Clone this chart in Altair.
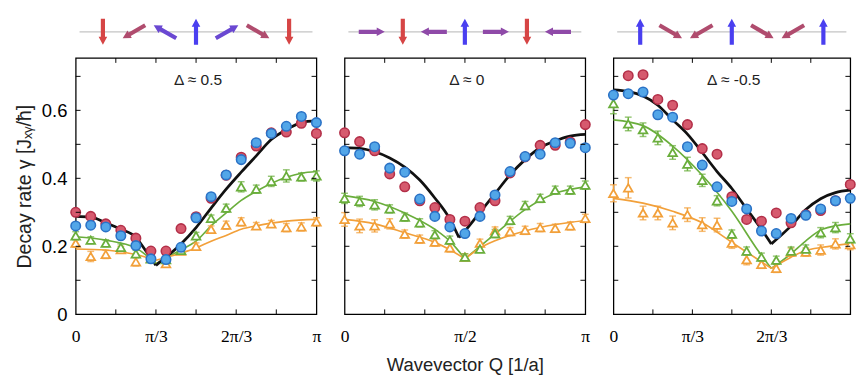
import altair as alt
import pandas as pd
import numpy as np

PI = float(np.pi)

# Q grid index: Q = k * pi / 16
q_index = list(range(17))

panel_labels = ["Δ ≈ 0.5", "Δ ≈ 0", "Δ ≈ -0.5"]

# ---------------- Panel 1 (Δ ≈ 0.5) ----------------
p1_red = [0.300, 0.288, 0.266, 0.247, 0.224, 0.186, 0.186, 0.252, 0.287, 0.341, 0.409, 0.462, 0.495, 0.534, 0.536, 0.562, 0.532]
p1_blue = [0.260, 0.262, 0.257, 0.231, 0.202, 0.163, 0.161, 0.197, 0.284, 0.346, 0.410, 0.455, 0.505, 0.532, 0.553, 0.582, 0.564]
p1_green = [0.231, 0.218, 0.209, 0.197, 0.178, 0.163, 0.161, 0.188, 0.231, 0.282, 0.312, 0.375, 0.368, 0.391, 0.407, 0.404, 0.407]
p1_orange = [0.209, 0.170, 0.176, 0.190, 0.154, 0.165, 0.149, 0.186, 0.200, 0.250, 0.262, 0.272, 0.260, 0.266, 0.255, 0.257, 0.272]
p1_green_err = [0.012, 0.010, 0.010, 0.010, 0.010, 0.010, 0.010, 0.010, 0.010, 0.010, 0.012, 0.015, 0.012, 0.015, 0.018, 0.012, 0.015]
p1_orange_err = [0.012, 0.015, 0.012, 0.010, 0.012, 0.010, 0.010, 0.010, 0.010, 0.010, 0.012, 0.012, 0.010, 0.010, 0.012, 0.012, 0.012]
p1_kink = 1 / 3
p1_black_f = [0, 0.0625, 0.125, 0.1875, 0.25, 0.29, 1 / 3, 0.375, 0.4375, 0.5, 0.5625, 0.625, 0.6875, 0.75, 0.8125, 0.875, 0.9375, 1]
p1_black_y = [0.288, 0.286, 0.269, 0.250, 0.226, 0.1875, 0.144, 0.168, 0.207, 0.255, 0.3125, 0.368, 0.418, 0.466, 0.514, 0.543, 0.564, 0.570]
p1_green_f = [0, 0.125, 0.25, 1 / 3, 0.4375, 0.5, 0.5625, 0.625, 0.6875, 0.75, 0.8125, 0.875, 0.9375, 1]
p1_green_y = [0.228, 0.218, 0.195, 0.149, 0.190, 0.215, 0.260, 0.298, 0.335, 0.362, 0.385, 0.403, 0.415, 0.420]
p1_orange_f = [0, 0.125, 0.25, 1 / 3, 0.4375, 0.5, 0.5625, 0.625, 0.6875, 0.75, 0.8125, 0.875, 1]
p1_orange_y = [0.192, 0.189, 0.176, 0.159, 0.180, 0.195, 0.215, 0.232, 0.250, 0.260, 0.268, 0.274, 0.279]

# ---------------- Panel 2 (Δ ≈ 0) ----------------
p2_red = [0.534, 0.508, 0.481, 0.413, 0.375, 0.334, 0.314, 0.279, 0.274, 0.314, 0.334, 0.416, 0.463, 0.497, 0.497, 0.507, 0.558]
p2_blue = [0.481, 0.471, 0.493, 0.430, 0.418, 0.339, 0.288, 0.257, 0.2375, 0.288, 0.351, 0.420, 0.464, 0.471, 0.505, 0.503, 0.490]
p2_green = [0.341, 0.332, 0.322, 0.310, 0.286, 0.269, 0.234, 0.218, 0.168, 0.192, 0.2375, 0.276, 0.320, 0.341, 0.365, 0.365, 0.380]
p2_orange = [0.279, 0.260, 0.260, 0.266, 0.236, 0.221, 0.212, 0.195, 0.168, 0.209, 0.245, 0.243, 0.247, 0.255, 0.253, 0.260, 0.282]
p2_green_err = [0.015, 0.015, 0.015, 0.012, 0.012, 0.012, 0.012, 0.012, 0.010, 0.010, 0.012, 0.012, 0.012, 0.012, 0.012, 0.012, 0.012]
p2_orange_err = [0.020, 0.020, 0.018, 0.015, 0.012, 0.012, 0.012, 0.012, 0.010, 0.012, 0.012, 0.012, 0.012, 0.012, 0.012, 0.012, 0.012]
p2_kink_black = 0.475
p2_kink = 0.5
p2_black_f = [0, 0.0625, 0.125, 0.1875, 0.25, 0.3125, 0.375, 0.4375, 0.475, 0.5, 0.5625, 0.625, 0.6875, 0.75, 0.8125, 0.875, 0.9375, 1]
p2_black_y = [0.490, 0.488, 0.478, 0.460, 0.433, 0.395, 0.342, 0.280, 0.226, 0.245, 0.300, 0.355, 0.410, 0.455, 0.490, 0.510, 0.524, 0.529]
p2_green_f = [0, 0.125, 0.25, 0.375, 0.4375, 0.5, 0.5625, 0.625, 0.75, 0.875, 1]
p2_green_y = [0.349, 0.332, 0.298, 0.250, 0.215, 0.163, 0.200, 0.236, 0.308, 0.356, 0.375]
p2_orange_f = [0, 0.125, 0.25, 0.375, 0.4375, 0.5, 0.5625, 0.625, 0.75, 0.875, 1]
p2_orange_y = [0.279, 0.266, 0.240, 0.2115, 0.190, 0.163, 0.195, 0.216, 0.245, 0.264, 0.276]

# ---------------- Panel 3 (Δ ≈ -0.5) ----------------
p3_red = [None, 0.702, 0.705, 0.632, 0.615, 0.558, 0.4875, 0.471, 0.346, 0.279, 0.274, 0.298, 0.269, 0.293, 0.305, 0.334, 0.382]
p3_blue = [0.645, 0.649, 0.654, 0.587, 0.580, 0.493, 0.439, 0.375, 0.332, 0.310, 0.245, 0.2375, 0.282, 0.291, 0.310, 0.334, 0.341]
p3_green = [0.620, 0.560, 0.543, 0.519, 0.476, 0.442, 0.394, 0.334, 0.236, 0.186, 0.168, 0.159, 0.186, 0.192, 0.240, 0.255, 0.222]
p3_orange = [0.356, 0.372, 0.298, 0.298, 0.269, 0.293, 0.264, 0.2625, 0.209, 0.1605, 0.147, 0.135, 0.183, 0.183, 0.189, 0.207, 0.205]
p3_green_err = [0.030, 0.020, 0.020, 0.020, 0.020, 0.020, 0.018, 0.015, 0.012, 0.012, 0.012, 0.012, 0.012, 0.012, 0.015, 0.015, 0.015]
p3_orange_err = [0.025, 0.030, 0.020, 0.020, 0.020, 0.020, 0.020, 0.020, 0.015, 0.015, 0.012, 0.012, 0.012, 0.012, 0.015, 0.015, 0.015]
p3_kink = 2 / 3
p3_black_f = [0, 0.0625, 0.125, 0.1875, 0.25, 0.3125, 0.375, 0.4375, 0.5, 0.5625, 0.625, 2 / 3, 0.75, 0.8125, 0.875, 0.9375, 1]
p3_black_y = [0.660, 0.655, 0.642, 0.615, 0.572, 0.530, 0.476, 0.420, 0.370, 0.310, 0.250, 0.207, 0.260, 0.308, 0.340, 0.358, 0.365]
p3_green_f = [0, 0.125, 0.25, 0.375, 0.5, 0.615, 2 / 3, 0.75, 0.8125, 0.882, 1]
p3_green_y = [0.572, 0.555, 0.495, 0.409, 0.303, 0.183, 0.135, 0.178, 0.216, 0.250, 0.266]
p3_orange_f = [0, 0.125, 0.25, 0.375, 0.5, 0.615, 2 / 3, 0.75, 0.8125, 0.882, 1]
p3_orange_y = [0.341, 0.327, 0.303, 0.269, 0.2115, 0.159, 0.135, 0.168, 0.1875, 0.197, 0.208]

# ---------------- Spin-texture arrows above each panel ----------------
arrow_q = [0.355, 0.76, 1.165, 1.57, 1.975, 2.38, 2.785]
p1_arrow_angle = [180, 240, 300, 0, 60, 120, 180]
p1_arrow_color = ["#d64545", "#b04c6e", "#6a48d2", "#4a3ff0", "#6a48d2", "#b04c6e", "#d64545"]
p2_arrow_angle = [90, 180, 270, 0, 90, 180, 270]
p2_arrow_color = ["#8f4aa8", "#d64545", "#8f4aa8", "#4a3ff0", "#8f4aa8", "#d64545", "#8f4aa8"]
p3_arrow_angle = [0, 120, 240, 0, 120, 240, 0]
p3_arrow_color = ["#4a3ff0", "#b04c6e", "#b04c6e", "#4a3ff0", "#b04c6e", "#b04c6e", "#4a3ff0"]
strip_range = [0.05, 3.09]

# tick positions (inward ticks)
y_minor_ticks = [0.1, 0.2, 0.3, 0.4, 0.5, 0.6, 0.7]
x_minor_ticks = [PI / 6, PI / 3, PI / 2, 2 * PI / 3, 5 * PI / 6]

RED_FILL, RED_EDGE = "#d65a6e", "#b32f48"
BLUE_FILL, BLUE_EDGE = "#52a6e8", "#2a72c6"
GREEN = "#6aae3c"
ORANGE = "#f2a03a"

ARROW = "M-0.16,1 L0.16,1 L0.16,-0.38 L0.33,-0.38 L0,-1 L-0.33,-0.38 L-0.16,-0.38 Z"

YMAX = 0.754
H = 264


def line_df(f, y, kink):
    rows = []
    for fi, yi in zip(f, y):
        if fi <= kink + 1e-9:
            rows.append({"x": fi * PI, "y": yi, "seg": 0})
        if fi >= kink - 1e-9:
            rows.append({"x": fi * PI, "y": yi, "seg": 1})
    return pd.DataFrame(rows)


def make_panel(width, label, red, blue, green, orange, g_err, o_err,
               black, greenl, orangel, kinks, arrow_angle, arrow_color,
               label_expr, x_values, show_y, x_title):
    xs = [k * PI / 16 for k in q_index]
    pts = pd.DataFrame({"x": xs, "red": red, "blue": blue, "green": green,
                        "orange": orange, "gerr": g_err, "oerr": o_err})
    pts["glo"] = pts["green"] - pts["gerr"]
    pts["ghi"] = pts["green"] + pts["gerr"]
    pts["olo"] = pts["orange"] - pts["oerr"]
    pts["ohi"] = pts["orange"] + pts["oerr"]

    xscale = alt.Scale(domain=[0, PI], nice=False, zero=False)
    yscale = alt.Scale(domain=[0, YMAX], nice=False, zero=True)

    xaxis = alt.Axis(values=x_values, labelExpr=label_expr, ticks=False, domain=False,
                     grid=False, labelFont="Liberation Serif", labelFontSize=18,
                     labelColor="black", labelPadding=14, labelOverlap=False,
                     labelFlush=False, labelBound=False,
                     title=x_title if x_title else None,
                     titleFont="Liberation Sans", titleFontSize=19,
                     titleFontWeight="normal", titleColor="#222", titlePadding=11)
    if show_y:
        yaxis = alt.Axis(values=[0, 0.2, 0.4, 0.6], format=".1~f", ticks=False, domain=False,
                         grid=False, labelFont="Liberation Sans", labelFontSize=19,
                         labelColor="black", labelPadding=9,
                         title="Decay rate γ [Jₓᵧ/ħ]", titleFont="Liberation Sans",
                         titleFontSize=20, titleFontWeight="normal", titleColor="#222",
                         titlePadding=7)
    else:
        yaxis = None

    X = alt.X("x:Q", scale=xscale, axis=xaxis)

    base = alt.Chart(pts)

    layers = []
    # model curves
    for (f, y, kink), col, sw in [(greenl + (kinks[1],), GREEN, 1.7),
                                  (orangel + (kinks[1],), ORANGE, 1.7),
                                  (black + (kinks[0],), "#111111", 2.8)]:
        ldf = line_df(f, y, kink)
        layers.append(alt.Chart(ldf).mark_line(color=col, strokeWidth=sw, interpolate="monotone").encode(
            x=alt.X("x:Q", scale=xscale, axis=xaxis),
            y=alt.Y("y:Q", scale=yscale, axis=yaxis),
            detail="seg:N"))

    # error bars
    layers.append(base.mark_errorbar(ticks=True, size=7, thickness=1.5, color=ORANGE).encode(
        x=X, y=alt.Y("olo:Q", scale=yscale, axis=yaxis), y2="ohi:Q"))
    layers.append(base.mark_errorbar(ticks=True, size=7, thickness=1.5, color=GREEN).encode(
        x=X, y=alt.Y("glo:Q", scale=yscale, axis=yaxis), y2="ghi:Q"))

    # points
    layers.append(base.mark_point(shape="triangle-up", filled=True, fill="white", stroke=ORANGE,
                                  strokeWidth=1.8, size=80, opacity=1).encode(
        x=X, y=alt.Y("orange:Q", scale=yscale, axis=yaxis)))
    layers.append(base.mark_point(shape="triangle-up", filled=True, fill="white", stroke=GREEN,
                                  strokeWidth=1.8, size=80, opacity=1).encode(
        x=X, y=alt.Y("green:Q", scale=yscale, axis=yaxis)))
    layers.append(base.mark_point(shape="circle", filled=True, fill=RED_FILL, stroke=RED_EDGE,
                                  strokeWidth=1.6, size=95, opacity=1).encode(
        x=X, y=alt.Y("red:Q", scale=yscale, axis=yaxis)))
    layers.append(base.mark_point(shape="circle", filled=True, fill=BLUE_FILL, stroke=BLUE_EDGE,
                                  strokeWidth=1.6, size=95, opacity=1).encode(
        x=X, y=alt.Y("blue:Q", scale=yscale, axis=yaxis)))

    # inward ticks
    yt = pd.DataFrame({"y": y_minor_ticks})
    xt = pd.DataFrame({"x": x_minor_ticks})
    layers.append(alt.Chart(yt).mark_rule(color="black", strokeWidth=1).encode(
        y=alt.Y("y:Q", scale=yscale, axis=yaxis), x=alt.value(0), x2=alt.value(5)))
    layers.append(alt.Chart(yt).mark_rule(color="black", strokeWidth=1).encode(
        y=alt.Y("y:Q", scale=yscale, axis=yaxis), x=alt.value(width - 5), x2=alt.value(width)))
    layers.append(alt.Chart(xt).mark_rule(color="black", strokeWidth=1).encode(
        x=X, y=alt.value(H - 5), y2=alt.value(H)))
    layers.append(alt.Chart(xt).mark_rule(color="black", strokeWidth=1).encode(
        x=X, y=alt.value(0), y2=alt.value(5)))

    # arrow strip
    strip = pd.DataFrame({"x": [strip_range[0]], "x2": [strip_range[1]]})
    layers.append(alt.Chart(strip).mark_rule(color="#c4c4c4", strokeWidth=1.3).encode(
        x=X, x2="x2:Q", y=alt.value(-27)))
    arr = pd.DataFrame({"x": arrow_q, "angle": arrow_angle, "color": arrow_color})
    layers.append(alt.Chart(arr).mark_point(shape=ARROW, filled=True, size=720, opacity=1,
                                            strokeWidth=0).encode(
        x=X, y=alt.value(-27),
        angle=alt.Angle("angle:Q", scale=None),
        color=alt.Color("color:N", scale=None)))

    # panel label
    lab = pd.DataFrame({"t": [label]})
    layers.append(alt.Chart(lab).mark_text(font="Liberation Sans", fontSize=16, color="#222",
                                           align="center", baseline="middle").encode(
        text="t:N", x=alt.value(width / 2 + 2), y=alt.value(23)))

    return alt.layer(*layers).properties(width=width, height=H)


p1 = make_panel(248, panel_labels[0], p1_red, p1_blue, p1_green, p1_orange, p1_green_err, p1_orange_err,
                (p1_black_f, p1_black_y), (p1_green_f, p1_green_y), (p1_orange_f, p1_orange_y),
                (p1_kink, p1_kink), p1_arrow_angle, p1_arrow_color,
                "['0','π/3','2π/3','π'][round(datum.value*3/PI)]", [0, PI / 3, 2 * PI / 3, PI], True, None)
p2 = make_panel(248, panel_labels[1], p2_red, p2_blue, p2_green, p2_orange, p2_green_err, p2_orange_err,
                (p2_black_f, p2_black_y), (p2_green_f, p2_green_y), (p2_orange_f, p2_orange_y),
                (p2_kink_black, p2_kink), p2_arrow_angle, p2_arrow_color,
                "['0','π/2','π'][round(datum.value*2/PI)]", [0, PI / 2, PI], False, "Wavevector Q [1/a]")
p3 = make_panel(244, panel_labels[2], p3_red, p3_blue, p3_green, p3_orange, p3_green_err, p3_orange_err,
                (p3_black_f, p3_black_y), (p3_green_f, p3_green_y), (p3_orange_f, p3_orange_y),
                (p3_kink, p3_kink), p3_arrow_angle, p3_arrow_color,
                "['0','π/3','2π/3'][round(datum.value*3/PI)]", [0, PI / 3, 2 * PI / 3], False, None)

chart = alt.hconcat(p1, p2, p3, spacing=11).resolve_scale(x="independent", y="independent").properties(
    padding={"left": 14, "top": 12, "right": 0, "bottom": 0},
    background="white",
).configure_view(stroke="black", strokeWidth=1.3)

chart.save("out.html", embed_options={"renderer": "svg", "actions": False})
